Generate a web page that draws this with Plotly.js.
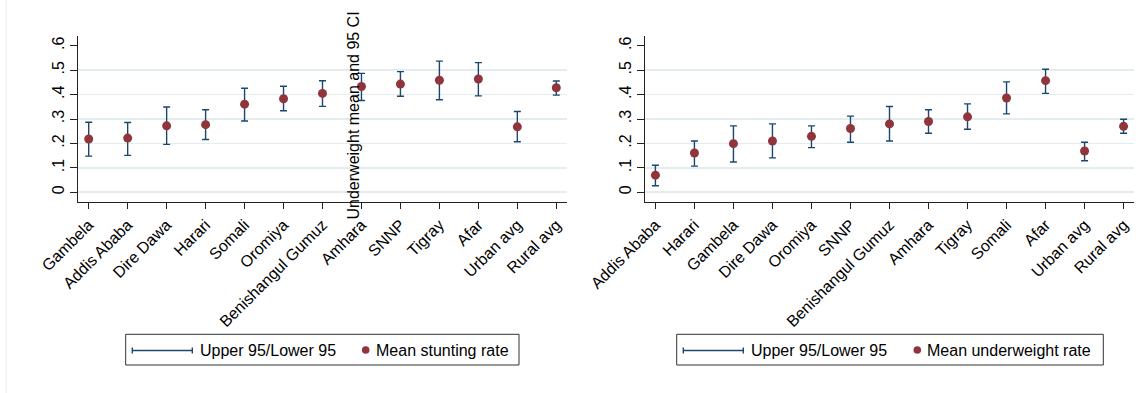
<!DOCTYPE html>
<html>
<head>
<meta charset="utf-8">
<script src="https://cdn.plot.ly/plotly-3.0.1.min.js"></script>
<style>html,body{margin:0;padding:0;background:#fff;}#chart{width:1147px;height:393px;}</style>
</head>
<body>
<div id="chart"></div>
<script>
// ---- Data ----
var stuntCats  = ["Gambela","Addis Ababa","Dire Dawa","Harari","Somali","Oromiya","Benishangul Gumuz","Amhara","SNNP","Tigray","Afar","Urban avg","Rural avg"];
var stuntMean  = [0.218,0.222,0.272,0.277,0.361,0.383,0.405,0.433,0.443,0.459,0.464,0.268,0.428];
var stuntUpper = [0.287,0.286,0.349,0.338,0.426,0.434,0.457,0.487,0.494,0.537,0.531,0.331,0.456];
var stuntLower = [0.148,0.151,0.196,0.216,0.292,0.334,0.352,0.376,0.393,0.379,0.395,0.207,0.398];

var underCats  = ["Addis Ababa","Harari","Gambela","Dire Dawa","Oromiya","SNNP","Benishangul Gumuz","Amhara","Tigray","Somali","Afar","Urban avg","Rural avg"];
var underMean  = [0.070,0.161,0.199,0.210,0.229,0.261,0.280,0.290,0.309,0.386,0.457,0.169,0.270];
var underUpper = [0.111,0.210,0.272,0.280,0.272,0.312,0.351,0.338,0.362,0.452,0.504,0.205,0.299];
var underLower = [0.027,0.107,0.124,0.141,0.183,0.205,0.210,0.242,0.258,0.321,0.405,0.129,0.242];

var yTickVals  = [0,0.1,0.2,0.3,0.4,0.5,0.6];
var yTickText  = ["0",".1",".2",".3",".4",".5",".6"];
var gridVals   = [0,0.1,0.2,0.3,0.4,0.5];

var legendCI    = "Upper 95/Lower 95";
var legendLeft  = "Mean stunting rate";
var legendRight = "Mean underweight rate";
var yTitle      = "Underweight mean and 95 CI";

// ---- Styles ----
var FONT = "Liberation Sans, Arial, Helvetica, sans-serif";
var NAVY = "#1a476f", MAROON = "#90353b", GRID = "#e3ecef", AXIS = "#222";
var W = 1147, H = 393;

function diff(a, b){ return a.map(function(v,i){ return +(v - b[i]).toFixed(4); }); }

function trace(cats, mean, up, lo, xa, ya){
  return {
    type: "scatter", mode: "markers", x: cats, y: mean, xaxis: xa, yaxis: ya,
    marker: {color: MAROON, size: 9},
    error_y: {type: "data", symmetric: false, array: diff(up, mean), arrayminus: diff(mean, lo),
              color: NAVY, thickness: 1.4, width: 3.5},
    showlegend: false, hoverinfo: "x+y"
  };
}

var data = [
  trace(stuntCats, stuntMean, stuntUpper, stuntLower, "x", "y"),
  trace(underCats, underMean, underUpper, underLower, "x2", "y2")
];

var yDom = [1 - 202.3/H, 1 - 36/H];
var yRange = [-0.041, 0.64];

function xaxis(dom, anchor){
  return {domain: dom, anchor: anchor, range: [-0.267, 12.267], type: "category",
    showgrid: false, zeroline: false, showline: true, linecolor: AXIS, linewidth: 1,
    ticks: "outside", ticklen: 6, tickcolor: AXIS, tickwidth: 1, tickangle: -45,
    tickfont: {family: FONT, size: 16, color: "#000"}, fixedrange: true};
}
function yaxis(anchor){
  return {domain: yDom, anchor: anchor, range: yRange, tickvals: yTickVals, ticktext: yTickText,
    showgrid: false, zeroline: false, showline: true, linecolor: AXIS, linewidth: 1,
    ticks: "outside", ticklen: 7, tickcolor: AXIS, tickwidth: 1, tickangle: -90,
    tickfont: {family: FONT, size: 16, color: "#000"}, fixedrange: true};
}
function gridAxis(over, anchor){
  return {domain: yDom, anchor: anchor, overlaying: over, range: yRange, tickvals: gridVals,
    showticklabels: false, ticks: "", showgrid: true, gridcolor: GRID, gridwidth: 1.6,
    zeroline: false, showline: false, layer: "below traces", fixedrange: true};
}

var xd1 = [78.3/W, 566.7/W], xd2 = [645/W, 1134/W];

// grid traces (invisible) to activate overlay axes
data.unshift({type:"scatter", x:[stuntCats[0]], y:[null], xaxis:"x", yaxis:"y3", showlegend:false, hoverinfo:"skip"});
data.unshift({type:"scatter", x:[underCats[0]], y:[null], xaxis:"x2", yaxis:"y4", showlegend:false, hoverinfo:"skip"});

// manual legends (paper px -> fractions)
function px(x){ return x / W; }
function py(y){ return 1 - y / H; }
var shapes = [], annotations = [];
function legend(x0, x1, lineX0, lineX1, textX, dotX, dot2TextX, label2){
  var yc = 350.5;
  shapes.push({type:"rect", xref:"paper", yref:"paper", x0:px(x0), x1:px(x1), y0:py(365), y1:py(334.3),
               line:{color:"#333", width:1}, fillcolor:"rgba(0,0,0,0)"});
  shapes.push({type:"line", xref:"paper", yref:"paper", x0:px(lineX0), x1:px(lineX1), y0:py(yc), y1:py(yc), line:{color:NAVY, width:1.4}});
  shapes.push({type:"line", xref:"paper", yref:"paper", x0:px(lineX0), x1:px(lineX0), y0:py(yc-3), y1:py(yc+3), line:{color:NAVY, width:1.4}});
  shapes.push({type:"line", xref:"paper", yref:"paper", x0:px(lineX1), x1:px(lineX1), y0:py(yc-3), y1:py(yc+3), line:{color:NAVY, width:1.4}});
  shapes.push({type:"circle", xref:"paper", yref:"paper", x0:px(dotX-3.8), x1:px(dotX+3.8), y0:py(yc+3.8-0.5), y1:py(yc-3.8-0.5),
               line:{width:0}, fillcolor:MAROON});
  annotations.push({xref:"paper", yref:"paper", x:px(textX), y:py(yc), xanchor:"left", yanchor:"middle", showarrow:false,
                    text:legendCI, font:{family:FONT, size:16, color:"#000"}});
  annotations.push({xref:"paper", yref:"paper", x:px(dot2TextX), y:py(yc), xanchor:"left", yanchor:"middle", showarrow:false,
                    text:label2, font:{family:FONT, size:16, color:"#000"}});
}
legend(125.7, 519, 132.3, 192.3, 198, 365.7, 374, legendLeft);
legend(676.7, 1103.3, 683.3, 743.3, 749, 917.3, 925, legendRight);

annotations.push({xref:"paper", yref:"paper", x:px(353.5), y:py(116), xanchor:"center", yanchor:"middle",
                  showarrow:false, textangle:-90, text:yTitle, font:{family:FONT, size:16, color:"#000"}});

shapes.push({type:"line", xref:"paper", yref:"paper", x0:px(6), x1:px(6), y0:0, y1:1, line:{color:"#e4eef3", width:1}});

var layout = {
  width: W, height: H, margin: {l:0, r:0, t:0, b:0, pad:0},
  paper_bgcolor: "#fff", plot_bgcolor: "rgba(0,0,0,0)",
  showlegend: false,
  font: {family: FONT, size: 16, color: "#000"},
  xaxis: xaxis(xd1, "y"), yaxis: yaxis("x"),
  xaxis2: xaxis(xd2, "y2"), yaxis2: yaxis("x2"),
  yaxis3: gridAxis("y", "x"), yaxis4: gridAxis("y2", "x2"),
  shapes: shapes, annotations: annotations
};

Plotly.newPlot("chart", data, layout, {displayModeBar: false, staticPlot: true});
</script>
</body>
</html>
